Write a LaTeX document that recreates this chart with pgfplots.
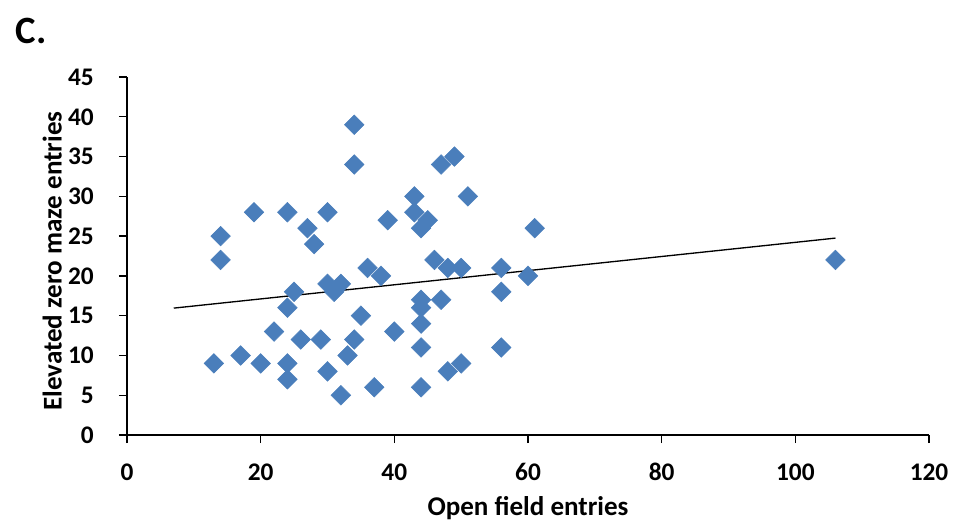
\documentclass[border=0pt]{standalone}
\usepackage{pgfplots}
\pgfplotsset{compat=1.18}
\usepackage{fontspec}
\setmainfont{Carlito}
\definecolor{xlblue}{HTML}{4A7EBB}
\begin{document}
\begin{tikzpicture}
\useasboundingbox (-95.25pt,-65.25pt) rectangle (621.75pt,326.25pt);
\begin{axis}[
  at={(0,0)}, anchor=south west,
  scale only axis,
  width=601.5pt, height=268.5pt,
  xmin=0, xmax=120, ymin=0, ymax=45,
  xtick={0,20,...,120}, ytick={0,5,...,45},
  axis lines=left,
  axis line style={line width=1pt, -},
  tick style={line width=1pt, black},
  tick align=outside,
  major tick length=6pt,
  minor tick num=0,
  /pgf/number format/assume math mode=true,
  ticklabel style={font=\bfseries\fontsize{19}{19}\selectfont, inner sep=0pt},
  xticklabel style={anchor=center, yshift=-21.6pt},
  yticklabel style={anchor=east, xshift=-18.75pt},
  xlabel={Open field entries},
  ylabel={Elevated zero maze entries},
  label style={font=\bfseries\fontsize{20.3}{20.3}\selectfont},
  xlabel style={at={(axis description cs:0.5,0)}, anchor=center, yshift=-55pt},
  ylabel style={at={(axis description cs:0,0.486)}, anchor=center, yshift=56pt},
  clip=false,
]
\addplot[only marks, mark=square*, mark size=5.2pt, mark options={rotate=45, fill=xlblue, draw=xlblue}] coordinates {
(13,9) (14,25) (14,22) (17,10) (19,28) (20,9) (22,13) (24,28) (24,16) (24,9)
(24,7) (25,18) (26,12) (27,26) (28,24) (29,12) (30,28) (30,19) (30,8) (31,18)
(32,19) (32,5) (33,10) (34,39) (34,34) (34,12) (35,15) (36,21) (37,6) (38,20)
(39,27) (40,13) (43,30) (43,28) (44,26) (44,17) (44,16) (44,14) (44,11) (44,6)
(45,27) (46,22) (47,34) (47,17) (48,21) (48,8) (49,35) (50,21) (50,9) (51,30)
(56,21) (56,18) (56,11) (60,20) (61,26) (106,22)
};
\addplot[black, line width=1pt, no marks] coordinates {(7,15.95) (106,24.75)};
\end{axis}
\node[font=\bfseries\fontsize{29}{29}\selectfont, inner sep=0pt] at (-72pt,303pt) {C.};
\end{tikzpicture}
\end{document}
